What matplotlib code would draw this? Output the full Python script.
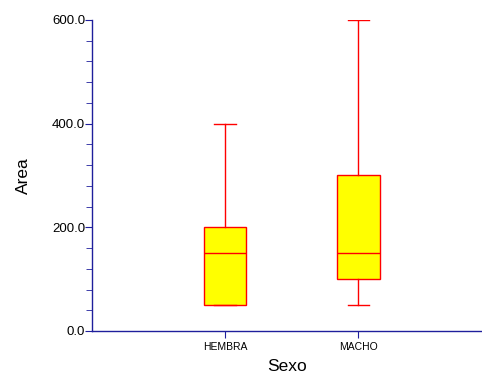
import matplotlib.pyplot as plt
from matplotlib.ticker import MultipleLocator, FormatStrFormatter

plt.rcParams['font.family'] = ['Liberation Sans', 'DejaVu Sans']

categories = ['HEMBRA', 'MACHO']
whislo = [50, 50]
q1 = [50, 100]
med = [150, 150]
q3 = [200, 300]
whishi = [400, 600]

axis_blue = '#1f1f9c'

stats = [dict(label=c, whislo=lo, q1=a, med=m, q3=b, whishi=hi)
         for c, lo, a, m, b, hi in zip(categories, whislo, q1, med, q3, whishi)]

fig = plt.figure(figsize=(4.82, 3.76), dpi=100)
ax = fig.add_axes([0.191, 0.1197, 0.809, 0.8273])

ax.bxp(stats, positions=[1, 2], widths=0.32, showfliers=False,
       patch_artist=True,
       boxprops=dict(facecolor='yellow', edgecolor='red', linewidth=1.0),
       medianprops=dict(color='red', linewidth=1.0),
       whiskerprops=dict(color='red', linewidth=1.0),
       capprops=dict(color='red', linewidth=1.0),
       capwidths=0.16)

ax.set_xlim(0, 2.93)
ax.set_ylim(0, 600)
ax.yaxis.set_major_locator(MultipleLocator(200))
ax.yaxis.set_minor_locator(MultipleLocator(40))
ax.yaxis.set_major_formatter(FormatStrFormatter('%.1f'))

for s in ['top', 'right']:
    ax.spines[s].set_visible(False)
for s in ['left', 'bottom']:
    ax.spines[s].set_color(axis_blue)
    ax.spines[s].set_linewidth(1.0)

ax.tick_params(axis='y', which='major', length=5, color=axis_blue,
               labelsize=9.5, pad=0)
ax.tick_params(axis='y', which='minor', length=4, color=axis_blue)
ax.tick_params(axis='x', which='major', length=5, color=axis_blue,
               labelsize=7.5, pad=3)

ax.set_xlabel('Sexo', fontsize=12.5, labelpad=5)
ax.set_ylabel('Area', fontsize=12.5, labelpad=15)

fig.savefig('out.png', dpi=100)
